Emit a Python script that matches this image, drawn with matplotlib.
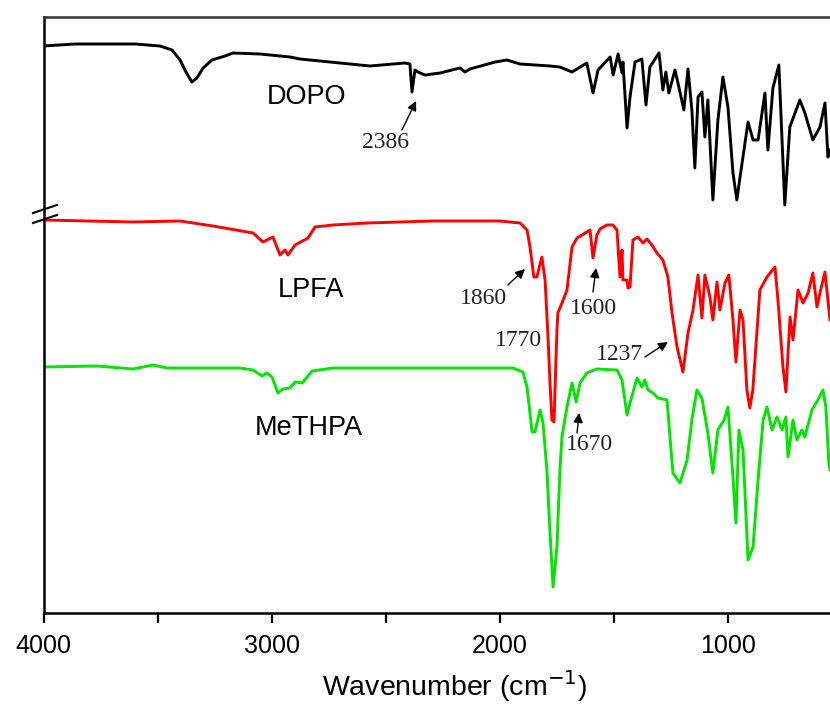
import numpy as np
import matplotlib.pyplot as plt

# FTIR spectra (wavenumber in cm-1, offset intensity in a.u.)
dopo_wn = [4000, 3862, 3599, 3490, 3437, 3402, 3376, 3350, 3328, 3301, 3262, 3205, 3170,
           3052, 2920, 2877, 2701, 2570, 2417, 2395, 2386, 2373, 2360, 2329, 2263, 2176,
           2154, 2132, 2022, 1970, 1913, 1781, 1738, 1685, 1620, 1593, 1571, 1518, 1505,
           1483, 1466, 1462, 1444, 1431, 1409, 1379, 1361, 1344, 1304, 1287, 1274, 1261,
           1234, 1217, 1195, 1177, 1160, 1147, 1133, 1116, 1103, 1090, 1068, 1046, 1024,
           1002, 980, 963, 949, 914, 892, 870, 840, 827, 805, 779, 753, 731, 687, 665,
           630, 599, 577, 564, 555]
dopo_t = [567, 569, 569, 567, 563, 553, 541, 531, 535, 545, 553, 557, 560,
          559, 556, 554, 550, 547, 550, 549, 521, 543, 541, 538, 540, 545,
          541, 544, 551, 553, 549, 547, 546, 541, 550, 520, 543, 556, 538,
          559, 540, 551, 485, 516, 551, 554, 508, 546, 560, 523, 541, 520,
          543, 526, 503, 544, 503, 445, 516, 521, 476, 513, 413, 493, 536,
          506, 440, 413, 436, 491, 473, 473, 520, 463, 525, 548, 408, 486, 513, 500,
          473, 486, 510, 456, 463]

lpfa_wn = [4000, 3608, 3402, 3258, 3082, 3039, 2995, 2964, 2942, 2929, 2898, 2841, 2811,
           2732, 2583, 2294, 2001, 1913, 1882, 1869, 1852, 1839, 1817, 1803, 1791, 1782,
           1773, 1764, 1751, 1747, 1729, 1707, 1685, 1663, 1620, 1606, 1593, 1576, 1562,
           1532, 1506, 1488, 1475, 1466, 1462, 1444, 1440, 1431, 1418, 1396, 1374, 1357,
           1335, 1313, 1287, 1265, 1247, 1225, 1199, 1177, 1155, 1133, 1116, 1103, 1081,
           1068, 1050, 1037, 1015, 998, 980, 967, 949, 936, 919, 906, 893, 862, 831, 796,
           783, 761, 748, 730, 717, 695, 673, 651, 630, 612, 599, 577, 555]
lpfa_t = [393, 391, 392, 387, 380, 371, 376, 358, 363, 358, 368, 375, 386,
          388, 390, 392, 392, 390, 383, 366, 336, 336, 356, 333, 280, 233,
          193, 191, 283, 300, 310, 323, 366, 375, 381, 383, 355, 378, 384,
          388, 388, 383, 336, 363, 333, 333, 325, 326, 373, 376, 370, 374,
          368, 360, 353, 336, 300, 266, 241, 280, 303, 338, 295, 338, 316,
          293, 331, 303, 330, 338, 293, 251, 303, 293, 223, 205, 223, 323, 336, 346,
          313, 246, 221, 296, 273, 323, 310, 320, 340, 306, 320, 341, 293]

methpa_wn = [4000, 3766, 3608, 3520, 3459, 3139, 3082, 3043, 3021, 2999, 2973, 2951, 2920,
             2898, 2867, 2823, 2732, 2145, 1944, 1900, 1882, 1860, 1847, 1825, 1812, 1795,
             1782, 1768, 1751, 1738, 1729, 1707, 1685, 1667, 1650, 1620, 1576, 1488, 1466,
             1444, 1431, 1400, 1379, 1366, 1352, 1330, 1309, 1269, 1243, 1212, 1181, 1160,
             1138, 1116, 1090, 1068, 1046, 1019, 1002, 980, 967, 954, 936, 914, 892, 870,
             848, 831, 809, 787, 765, 748, 739, 717, 700, 678, 665, 634, 608, 586, 573,
             560, 555]
methpa_t = [246, 247, 244, 248, 245, 245, 243, 237, 240, 236, 220, 224, 225,
            231, 230, 242, 245, 245, 245, 241, 226, 181, 181, 203, 190, 143,
            83, 26, 66, 143, 176, 206, 230, 211, 230, 240, 244, 243, 233,
            198, 210, 235, 226, 233, 223, 220, 215, 213, 140, 130, 153, 193,
            223, 215, 180, 140, 183, 193, 206, 136, 90, 183, 163, 53, 66, 133,
            193, 206, 183, 196, 183, 196, 156, 193, 173, 183, 176, 203, 213, 223, 206,
            150, 143]

names = ['DOPO', 'LPFA', 'MeTHPA']
colors = ['black', '#ff0000', '#00e600']
name_pos = [(2846, 516), (2828, 323), (2837, 185)]

# peak labels: text position, arrow tail, arrow head (None = no arrow)
peak_labels = ['2386', '1860', '1600', '1770', '1237', '1670']
peak_text = [(2500, 470), (2071, 314), (1593, 305), (1921, 273), (1479, 259), (1610, 169)]
peak_tail = [(2430, 483), (1966, 328), (1593, 321), None, (1366, 256), (1663, 180)]
peak_head = [(2368, 512), (1891, 344), (1580, 345), None, (1265, 271), (1654, 200)]

fig = plt.figure(figsize=(8.3, 7.04), dpi=100)
ax = fig.add_axes([43.5 / 830, 91 / 704, 786.5 / 830, 596 / 704])

spectra = [(dopo_wn, dopo_t), (lpfa_wn, lpfa_t), (methpa_wn, methpa_t)]
for (wn, t), c in zip(spectra, colors):
    ax.plot(wn, t, color=c, lw=2.1)

for name, (x, y) in zip(names, name_pos):
    ax.text(x, y, name, fontsize=19.5, family='Liberation Sans', ha='center', va='center')

for lab, pos, tail, head in zip(peak_labels, peak_text, peak_tail, peak_head):
    ax.text(pos[0], pos[1], lab, fontsize=17, family='Liberation Serif', ha='center',
            va='center', color='#222222')
    if tail is not None:
        ax.annotate('', xy=head, xytext=tail,
                    arrowprops=dict(arrowstyle='-|>', color='black', lw=1,
                                    mutation_scale=14, shrinkA=0, shrinkB=0))

ax.set_xlim(4000, 555)
ax.set_ylim(0, 596)
ax.set_yticks([])
ax.set_xticks([4000, 3000, 2000, 1000])
ax.set_xticks([3500, 2500, 1500], minor=True)
ax.tick_params(axis='x', which='both', direction='out', length=7, width=1.6,
               labelsize=18, pad=8)
for lab in ax.get_xticklabels():
    lab.set_family('Liberation Sans')
# the original axis ran to 400 cm-1 and was cropped, so the label sits right of centre
ax.set_xlabel('Wavenumber (cm$^{-1}$)', fontsize=20.5, family='Liberation Sans')
ax.xaxis.set_label_coords((4000 - 2200) / (4000 - 555), -0.093)
ax.xaxis.label.set_va('top')
ax.spines['right'].set_visible(False)
for s in ['left', 'bottom', 'top']:
    ax.spines[s].set_linewidth(1.8)
ax.spines['top'].set_color('#333333')

# axis break marks on the left spine
for dy in [0, 10]:
    ax.plot([-10.5 / 786.5, 13.5 / 786.5], [(613 - 213 - dy) / 596, (613 - 205 - dy) / 596],
            transform=ax.transAxes, color='black', lw=1.5, clip_on=False)

fig.savefig('out.png', dpi=100)
